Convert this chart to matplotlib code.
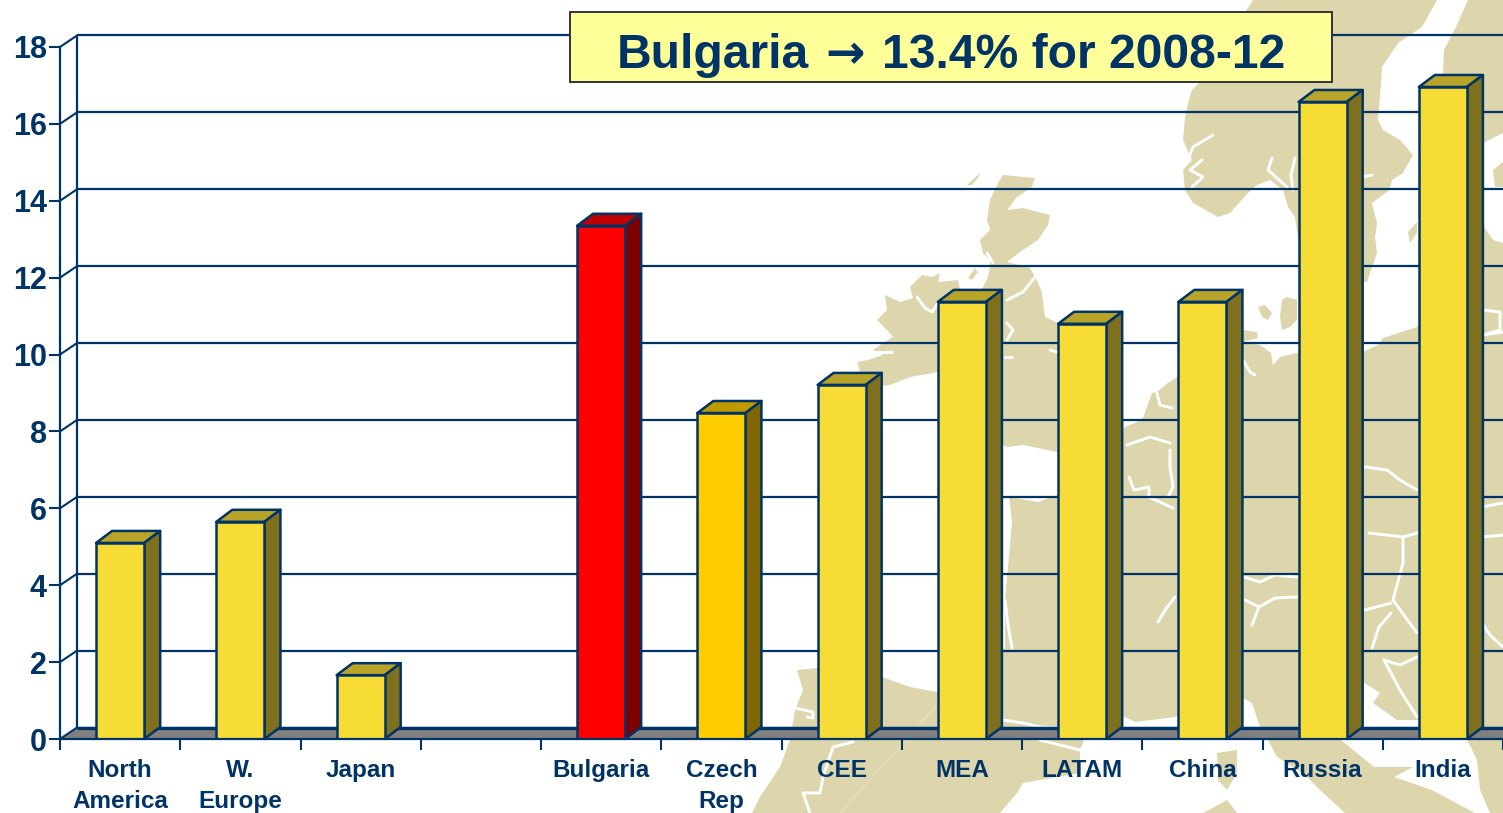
import numpy as np
import matplotlib
matplotlib.use("Agg")
import matplotlib.pyplot as plt
from matplotlib.patches import Polygon, Rectangle
from matplotlib.transforms import IdentityTransform, ScaledTranslation

plt.rcParams['font.family'] = ['Liberation Sans', 'DejaVu Sans']

# chart data
kategoriler = ["North\nAmerica", "W.\nEurope", "Japan", "", "Bulgaria", "Czech\nRep",
               "CEE", "MEA", "LATAM", "China", "Russia", "India"]
degerler = [5.10, 5.65, 1.66, np.nan, 13.35, 8.48, 9.21, 11.37, 10.80, 11.37, 16.57, 16.96]
y_ticks = [0, 2, 4, 6, 8, 10, 12, 14, 16, 18]
baslik_sol = "Bulgaria"
baslik_ok = "\u2192"
baslik_sag = "13.4% for 2008-12"

LACI = "#003366"
SARI = ("#F7DC35", "#B8A428", "#7F701E")
KIRMIZI = ("#FF0000", "#BF0000", "#800000")
TURUNCU = ("#FFCC00", "#BF9900", "#7F6600")
renkler = [SARI, SARI, SARI, SARI, KIRMIZI, TURUNCU, SARI, SARI, SARI, SARI, SARI, SARI]

# background map, in picture pixels (decoration only)
BEJ = "#DDD6AC"
harita = [
    # scandinavia
    [(1253, 0), (1437, 0), (1422, 27), (1398, 43), (1382, 67), (1380, 97), (1378, 120), (1383, 130),
     (1400, 140), (1413, 155), (1403, 173), (1392, 180), (1390, 188), (1387, 192), (1372, 203),
     (1377, 223), (1375, 237), (1377, 253), (1372, 267), (1367, 282), (1340, 282), (1298, 237),
     (1295, 217), (1288, 207), (1283, 190), (1270, 180), (1257, 185), (1248, 193), (1230, 213),
     (1218, 217), (1193, 203), (1185, 190), (1183, 170), (1192, 160), (1183, 140), (1185, 118),
     (1188, 103), (1192, 90), (1200, 82)],
    # finland
    [(1468, 0), (1456, 27), (1444, 50), (1442, 100), (1483, 143), (1503, 133), (1503, 0)],
    # estonia, gotland, danish islands
    [(1493, 170), (1503, 162), (1503, 187), (1495, 187)],
    [(1408, 232), (1417, 222), (1417, 233), (1410, 243)],
    [(1258, 307), (1265, 305), (1272, 313), (1268, 320), (1262, 317)],
    [(1282, 300), (1287, 297), (1297, 300), (1297, 320), (1290, 327), (1282, 330), (1280, 317)],
    # britain
    [(1003, 175), (1035, 178), (1032, 187), (1017, 197), (1007, 210), (1023, 208), (1050, 215),
     (1048, 225), (1038, 240), (1020, 252), (1007, 262), (1030, 268), (1037, 280), (1042, 293),
     (1045, 317), (1058, 323), (1060, 400), (1057, 452), (1023, 445), (1007, 447), (990, 440),
     (982, 289), (988, 277), (990, 267), (990, 260), (983, 253), (980, 240), (990, 230), (987, 220),
     (990, 200), (998, 183)],
    # hebrides
    [(967, 185), (980, 173), (978, 178), (972, 185)],
    [(968, 278), (975, 268), (978, 272), (972, 280)],
    # ireland
    [(885, 295), (900, 302), (913, 298), (910, 287), (922, 275), (933, 277), (940, 273), (938, 282),
     (958, 280), (960, 288), (945, 302), (945, 370), (933, 373), (910, 377), (890, 385), (875, 387),
     (860, 372), (857, 362), (868, 360), (883, 355), (873, 350), (883, 343), (893, 337), (887, 330),
     (877, 320), (887, 310)],
    # mainland
    [(1503, 243), (1493, 240), (1483, 225), (1417, 327), (1383, 338), (1378, 345), (1363, 352),
     (1297, 353), (1280, 357), (1273, 365), (1271, 353), (1260, 345), (1242, 342), (1258, 338),
     (1257, 332), (1243, 330), (1177, 377), (1168, 383), (1157, 392), (1152, 393), (1143, 418),
     (1137, 422), (1125, 427), (1057, 495), (1038, 502), (1009, 497), (1012, 522), (1005, 600),
     (1005, 648), (960, 680), (937, 692), (910, 687), (882, 677), (817, 668), (797, 670), (803, 690),
     (795, 710), (792, 727), (790, 740), (780, 767), (760, 797), (752, 813), (1000, 813), (1017, 793),
     (1023, 783), (1080, 773), (1080, 750), (1085, 738), (1125, 717), (1135, 722), (1175, 717),
     (1243, 698), (1252, 703), (1260, 727), (1268, 740), (1277, 757), (1303, 773), (1320, 790),
     (1345, 813), (1475, 813), (1432, 790), (1394, 777), (1413, 767), (1374, 767), (1341, 740),
     (1363, 682), (1380, 693), (1373, 703), (1397, 720), (1418, 720), (1465, 735), (1477, 760),
     (1480, 790), (1490, 813), (1503, 813)],
    # corsica, sardinia
    [(1217, 753), (1237, 750), (1237, 773), (1227, 790), (1218, 780)],
    [(1203, 813), (1227, 800), (1237, 813)],
]
sinirlar = [
    [(1213, 135), (1193, 147), (1188, 160)],
    [(1202, 160), (1190, 170), (1203, 177), (1192, 187)],
    [(1272, 158), (1268, 170), (1277, 178), (1287, 187)],
    [(1295, 158), (1291, 175), (1293, 190)],
    [(1363, 177), (1372, 175)],
    [(1377, 260), (1380, 273)],
    [(917, 297), (925, 308), (932, 312), (938, 303)],
    [(873, 352), (892, 352)],
    [(1035, 277), (1023, 292), (1007, 300)],
    [(1007, 323), (1013, 330), (1007, 340)],
    [(1005, 357), (1012, 357)],
    [(1050, 350), (1057, 352)],
    [(987, 253), (993, 263)],
    [(1243, 360), (1250, 372), (1255, 375)],
    [(1157, 393), (1160, 405), (1172, 408)],
    [(1127, 445), (1150, 437), (1170, 443)],
    [(1129, 477), (1134, 490), (1149, 487), (1149, 497), (1173, 508)],
    [(1170, 450), (1170, 467), (1173, 487), (1168, 497)],
    [(1158, 622), (1165, 610), (1175, 597)],
    [(1244, 577), (1260, 582), (1275, 575), (1297, 577)],
    [(1245, 600), (1259, 607), (1275, 598), (1297, 597)],
    [(1259, 607), (1252, 625)],
    [(1365, 467), (1387, 470), (1400, 480), (1417, 490)],
    [(1369, 533), (1403, 537), (1417, 533)],
    [(1403, 537), (1403, 563), (1393, 600), (1417, 633)],
    [(1365, 610), (1391, 603)],
    [(1391, 613), (1379, 627), (1372, 648)],
    [(1384, 660), (1400, 690), (1417, 717)],
    [(1384, 660), (1400, 665), (1417, 657)],
    [(1482, 507), (1503, 503)],
    [(1482, 537), (1503, 535)],
    [(1482, 623), (1490, 635), (1503, 647)],
    [(1483, 310), (1500, 312), (1500, 330), (1483, 335), (1503, 332)],
    [(853, 742), (833, 747), (823, 777), (820, 793), (803, 793), (810, 813)],
    [(795, 708), (813, 712), (813, 718), (807, 717)],
    [(1003, 720), (1023, 723), (1040, 727), (1058, 728)],
    [(1040, 740), (1060, 745), (1080, 750)],
    [(1005, 600), (1008, 625), (1012, 648)],
]

fig = plt.figure(figsize=(15.03, 8.13), dpi=100, facecolor="white")

# map layer
arka = fig.add_axes([0, 0, 1, 1], zorder=0)
arka.set_xlim(0, 1503)
arka.set_ylim(813, 0)
arka.axis("off")
for parca in harita:
    arka.add_patch(Polygon(parca, closed=True, fc=BEJ, ec="none"))
for cizgi in sinirlar:
    xs, ys = zip(*cizgi)
    arka.plot(xs, ys, color="white", lw=2.1, solid_capstyle="round")
arka.plot([937, 840], [705, 813], color="#E8E2C4", lw=0.7)

# chart layer
ax = fig.add_axes([60 / 1503, (813 - 739) / 813, 1443 / 1503, 692 / 813], zorder=1)
ax.patch.set_alpha(0)
ax.set_xlim(-0.5, 11.5)
ax.set_ylim(0, 18)

DX, DY = 17, 11.5
piksel = IdentityTransform()
arka_duvar = ax.transData + ScaledTranslation(DX / 100, DY / 100, fig.dpi_scale_trans)


def p(x, y):
    return ax.transData.transform((x, y))


# floor
a = p(-0.5, 0)
b = p(11.5, 0)
ax.add_patch(Polygon([a, a + (DX, DY), b + (DX, DY), b], closed=True, fc="#808080", ec="none",
                     transform=piksel, zorder=1, clip_on=False))

# back wall lines
ax.hlines(y_ticks, -0.5, 11.5, color=LACI, lw=1.6, transform=arka_duvar, zorder=1.5, clip_on=False)
ax.hlines(0, -0.5, 11.5, color=LACI, lw=2.4, transform=arka_duvar, zorder=1.5, clip_on=False)
ax.vlines(-0.5, 0, 18, color=LACI, lw=1.6, transform=arka_duvar, zorder=1.5, clip_on=False)
for t in y_ticks:
    o = p(-0.5, t)
    ax.plot([o[0], o[0] + DX], [o[1], o[1] + DY], color=LACI, lw=1.5, transform=piksel, zorder=1.5,
            clip_on=False)

# bars, front faces through the axis, depth drawn from the same positions
konum = np.arange(len(kategoriler))
GEN = 0.4
on_renk = [r[0] for r in renkler]
ax.bar(konum, degerler, width=GEN, color=on_renk, edgecolor=LACI, linewidth=1.8, zorder=3)
for x, v, r in zip(konum, degerler, renkler):
    if np.isnan(v):
        continue
    sol_ust = p(x - GEN / 2, v)
    sag_ust = p(x + GEN / 2, v)
    sag_alt = p(x + GEN / 2, 0)
    d = np.array([DX - 1, DY + 0.5])
    ax.add_patch(Polygon([sol_ust, sol_ust + d, sag_ust + d, sag_ust], closed=True, fc=r[1], ec=LACI,
                         lw=1.8, transform=piksel, zorder=2.5, clip_on=False, joinstyle="round"))
    ax.add_patch(Polygon([sag_ust, sag_ust + d, sag_alt + d, sag_alt], closed=True, fc=r[2], ec=LACI,
                         lw=1.8, transform=piksel, zorder=2.5, clip_on=False, joinstyle="round"))

# axes
for s in ["top", "right"]:
    ax.spines[s].set_visible(False)
for s in ["left", "bottom"]:
    ax.spines[s].set_color(LACI)
    ax.spines[s].set_linewidth(1.6)
    ax.spines[s].set_zorder(4)

ax.set_yticks(y_ticks)
ax.set_yticklabels([str(t) for t in y_ticks], fontsize=22, fontweight="bold", color=LACI)
ax.tick_params(axis="y", length=8, width=1.5, color=LACI, pad=1.5)

ax.set_xticks(np.arange(-0.5, 11.6, 1))
ax.set_xticklabels([])
ax.set_xticks(konum, minor=True)
ax.set_xticklabels(kategoriler, minor=True, fontsize=17.5, fontweight="bold", color=LACI, linespacing=1.42)
ax.tick_params(axis="x", which="major", length=8, width=1.5, color=LACI)
ax.tick_params(axis="x", which="minor", length=0, pad=14.5)

# title box
ust = fig.add_axes([0, 0, 1, 1], zorder=2)
ust.patch.set_alpha(0)
ust.set_xlim(0, 1503)
ust.set_ylim(813, 0)
ust.axis("off")
ust.add_patch(Rectangle((570, 12), 762, 70, fc="#FFFF99", ec="#333333", lw=1.4))
ust.text(617, 68, baslik_sol, ha="left", va="baseline", fontsize=34.6, fontweight="bold", color=LACI)
ust.text(845, 68, baslik_ok, ha="center", va="baseline", fontsize=34, fontweight="bold", color=LACI,
         family="DejaVu Sans")
ust.text(1285, 68, baslik_sag, ha="right", va="baseline", fontsize=34.6, fontweight="bold", color=LACI)

fig.savefig("out.png", dpi=100)
